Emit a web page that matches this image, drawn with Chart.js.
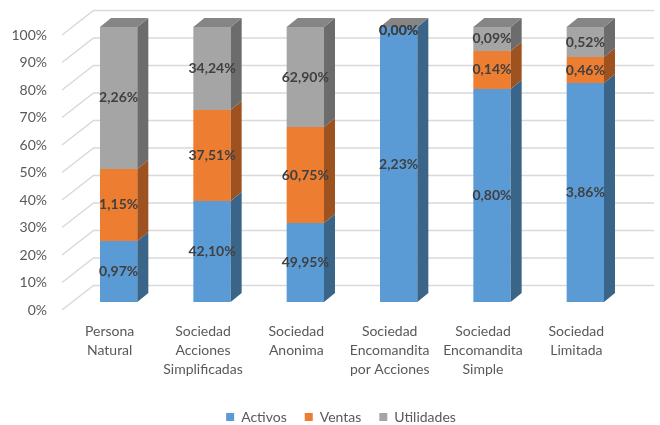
<!DOCTYPE html>
<html>
<head>
<meta charset="utf-8">
<script src="https://cdn.jsdelivr.net/npm/chart.js@4.4.1/dist/chart.umd.min.js"></script>
<style>
  html, body { margin: 0; padding: 0; background: #fff; }
  #wrap { width: 660px; height: 425px; }
</style>
</head>
<body>
<div id="wrap"><canvas id="grafico"></canvas></div>
<script>
// Datos
const categorias = [
    ['Persona', 'Natural'],
    ['Sociedad', 'Acciones', 'Simplificadas'],
    ['Sociedad', 'Anonima'],
    ['Sociedad', 'Encomandita', 'por Acciones'],
    ['Sociedad', 'Encomandita', 'Simple'],
    ['Sociedad', 'Limitada']
];

// alto de cada tramo (porcentaje de la barra)
const activos    = [22.2, 36.7, 28.7, 100, 77.5, 79.6];
const ventas     = [26.2, 33.1, 34.9, 0, 13.8, 9.5];
const utilidades = [51.6, 30.2, 36.4, 0, 8.7, 10.9];

// etiquetas que muestra cada tramo
const etiquetasActivos    = ['0,97%', '42,10%', '49,95%', '2,23%', '0,80%', '3,86%'];
const etiquetasVentas     = ['1,15%', '37,51%', '60,75%', '0,00%', '0,14%', '0,46%'];
const etiquetasUtilidades = ['2,26%', '34,24%', '62,90%', '0,00%', '0,09%', '0,52%'];

const ticksY = [0, 10, 20, 30, 40, 50, 60, 70, 80, 90, 100];

const FUENTE = 'Lato, "Open Sans", sans-serif';

// colores: frente, lado, tapa
const colores = {
    activos:    ['#5b9bd5', '#3b6489', '#3b6489'],
    ventas:     ['#ed7d31', '#9e521f', '#9e521f'],
    utilidades: ['#a5a5a5', '#6c6c6c', '#858585']
};

const PROF_X = 11;   // profundidad de la barra
const PROF_Y = 9;

// Pared del fondo y lineas de cuadricula en 3D
const pluginFondo = {
    id: 'fondo',
    beforeDatasetsDraw(chart) {
        const { ctx, chartArea, scales: { y } } = chart;
        ctx.save();
        ctx.strokeStyle = '#d9d9d9';
        ctx.lineWidth = 1.5;
        ticksY.forEach(v => {
            const py = y.getPixelForValue(v);
            ctx.beginPath();
            ctx.moveTo(chartArea.left - 10, py + 8);
            ctx.lineTo(chartArea.left + 21.5, py - 16.5);
            ctx.lineTo(chartArea.right + 22, py - 16.5);
            ctx.stroke();
        });
        ctx.restore();
    }
};

// Caras laterales, tapa y etiquetas
const pluginCubo = {
    id: 'cubo',
    afterDatasetsDraw(chart) {
        const { ctx } = chart;
        const nDatasets = chart.data.datasets.length;
        ctx.save();
        chart.data.datasets.forEach((ds, i) => {
            const meta = chart.getDatasetMeta(i);
            meta.data.forEach(bar => {
                const { x, y, base, width } = bar.getProps(['x', 'y', 'base', 'width'], true);
                const xr = x + width / 2;
                const xl = x - width / 2;
                if (base - y > 0) {
                    ctx.fillStyle = ds.colorLado;
                    ctx.beginPath();
                    ctx.moveTo(xr, y);
                    ctx.lineTo(xr + PROF_X, y - PROF_Y);
                    ctx.lineTo(xr + PROF_X, base - PROF_Y);
                    ctx.lineTo(xr, base);
                    ctx.closePath();
                    ctx.fill();
                }
                if (i === nDatasets - 1) {
                    ctx.fillStyle = ds.colorTapa;
                    ctx.beginPath();
                    ctx.moveTo(xl, y);
                    ctx.lineTo(xl + PROF_X, y - PROF_Y);
                    ctx.lineTo(xr + PROF_X, y - PROF_Y);
                    ctx.lineTo(xr, y);
                    ctx.closePath();
                    ctx.fill();
                }
            });
        });

        ctx.font = 'bold 14px ' + FUENTE;
        ctx.fillStyle = '#404040';
        ctx.textAlign = 'center';
        ctx.textBaseline = 'middle';
        chart.data.datasets.forEach((ds, i) => {
            const meta = chart.getDatasetMeta(i);
            meta.data.forEach((bar, j) => {
                const { x, y, base } = bar.getProps(['x', 'y', 'base'], true);
                let cy = (y + base) / 2;
                if (base - y < 1) cy += 3;
                ctx.fillText(ds.etiquetas[j], x, cy);
            });
        });
        ctx.restore();
    }
};

const ctx = document.getElementById('grafico').getContext('2d');

window.graficaEmpresas = new Chart(ctx, {
    type: 'bar',
    data: {
        labels: categorias,
        datasets: [
            {
                label: 'Activos',
                data: activos,
                etiquetas: etiquetasActivos,
                backgroundColor: colores.activos[0],
                colorLado: colores.activos[1],
                colorTapa: colores.activos[2]
            },
            {
                label: 'Ventas',
                data: ventas,
                etiquetas: etiquetasVentas,
                backgroundColor: colores.ventas[0],
                colorLado: colores.ventas[1],
                colorTapa: colores.ventas[2]
            },
            {
                label: 'Utilidades',
                data: utilidades,
                etiquetas: etiquetasUtilidades,
                backgroundColor: colores.utilidades[0],
                colorLado: colores.utilidades[1],
                colorTapa: colores.utilidades[2]
            }
        ]
    },
    options: {
        responsive: true,
        maintainAspectRatio: false,
        animation: false,
        barPercentage: 0.4,
        categoryPercentage: 1,
        borderWidth: 0,
        layout: {
            padding: { top: 27, left: 6, right: -16, bottom: -9 }
        },
        scales: {
            x: {
                stacked: true,
                grid: { display: false, drawTicks: false },
                border: { display: false },
                ticks: {
                    color: '#595959',
                    font: { family: FUENTE, size: 14, lineHeight: 1.36 },
                    padding: 20,
                    labelOffset: -9,
                    maxRotation: 0,
                    autoSkip: false
                },
                afterFit(s) { s.height = 90; }
            },
            y: {
                stacked: true,
                min: 0,
                max: 100,
                grid: { display: false, drawTicks: false },
                border: { display: false },
                ticks: {
                    stepSize: 10,
                    color: '#595959',
                    font: { family: FUENTE, size: 14 },
                    padding: 25,
                    labelOffset: 8,
                    callback: v => v + '%'
                },
                afterFit(s) {
                    s.width = 66;
                    s.paddingTop = 8;
                    s.paddingBottom = 8;
                }
            },
            yR: {
                type: 'linear',
                position: 'right',
                grid: { display: false, drawTicks: false },
                border: { display: false },
                ticks: { display: false },
                afterFit(s) { s.width = 44; }
            }
        },
        plugins: {
            legend: {
                position: 'bottom',
                labels: {
                    boxWidth: 8,
                    boxHeight: 8,
                    padding: 18,
                    color: '#595959',
                    font: { family: FUENTE, size: 14 }
                }
            },
            tooltip: { enabled: false }
        }
    },
    plugins: [pluginFondo, pluginCubo]
});
</script>
</body>
</html>
